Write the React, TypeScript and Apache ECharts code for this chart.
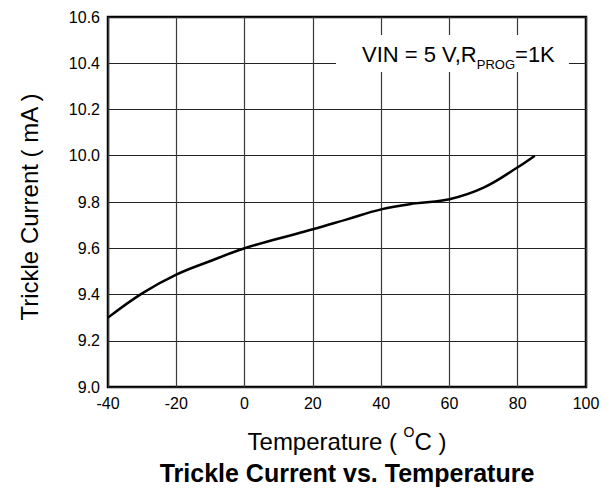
import React, { useEffect, useRef } from "react";
import * as echarts from "echarts";

// Trickle current vs. ambient temperature
const temperatures = [-40, -30, -20, -10, 0, 10, 20, 30, 40, 50, 60, 70, 80, 85];
const trickleCurrent = [9.3, 9.405, 9.486, 9.545, 9.6, 9.642, 9.682, 9.725, 9.768, 9.794, 9.812, 9.862, 9.95, 10.0];

const xTicks = [-40, -20, 0, 20, 40, 60, 80, 100];
const yTicks = [9.0, 9.2, 9.4, 9.6, 9.8, 10.0, 10.2, 10.4, 10.6];

const FONT = "'Liberation Sans', Arial, Helvetica, sans-serif";

// width of a string in the given font, used to chain the condition label pieces
function textWidth(text: string, size: number): number {
  const ctx = document.createElement("canvas").getContext("2d");
  if (!ctx) return text.length * size * 0.55;
  ctx.font = `${size}px ${FONT}`;
  return ctx.measureText(text).width;
}

export default function App() {
  const ref = useRef<HTMLDivElement>(null);

  useEffect(() => {
    if (!ref.current) return;
    const chart = echarts.init(ref.current, undefined, { renderer: "svg" });

    const points = temperatures.map((t, i) => [t, trickleCurrent[i]]);

    // condition label: "VIN = 5 V,R" + subscript "PROG" + "=1K"
    const condX = 362;
    const condMain = "VIN = 5 V,R";
    const condSub = "PROG";
    const condTail = "=1K";
    const wMain = textWidth(condMain, 22);
    const wSub = textWidth(condSub, 13);

    chart.setOption({
      animation: false,
      backgroundColor: "#ffffff",
      grid: {
        left: 108,
        right: 25,
        top: 17,
        bottom: 101,
        show: true,
        borderColor: "#000",
        borderWidth: 2.5,
        containLabel: false,
      },
      xAxis: {
        type: "value",
        min: xTicks[0],
        max: xTicks[xTicks.length - 1],
        interval: 20,
        axisLine: { show: false },
        axisTick: { show: false },
        axisLabel: {
          margin: 8,
          color: "#000",
          fontFamily: FONT,
          fontSize: 16,
          formatter: (v: number) => String(v),
        },
        splitLine: { show: true, lineStyle: { color: "#3a3a3a", width: 1.2 } },
      },
      yAxis: {
        type: "value",
        min: yTicks[0],
        max: yTicks[yTicks.length - 1],
        interval: 0.2,
        axisLine: { show: false },
        axisTick: { show: false },
        axisLabel: {
          margin: 8,
          color: "#000",
          fontFamily: FONT,
          fontSize: 16,
          formatter: (v: number) => v.toFixed(1),
        },
        splitLine: { show: true, lineStyle: { color: "#222", width: 1.2 } },
      },
      series: [
        {
          type: "line",
          data: points,
          smooth: 0.4,
          showSymbol: false,
          lineStyle: { color: "#000", width: 2.5 },
          z: 5,
        },
      ],
      graphic: [
        {
          type: "rect",
          z: 10,
          shape: { x: 336, y: 35, width: 233, height: 37 },
          style: { fill: "#fff" },
        },
        {
          type: "text",
          z: 11,
          x: condX,
          y: 54,
          style: {
            text: condMain,
            fontFamily: FONT,
            fontSize: 22,
            align: "left",
            verticalAlign: "middle",
            fill: "#000",
          },
        },
        {
          type: "text",
          z: 11,
          x: condX + wMain,
          y: 64,
          style: {
            text: condSub,
            fontFamily: FONT,
            fontSize: 13,
            align: "left",
            verticalAlign: "middle",
            fill: "#000",
          },
        },
        {
          type: "text",
          z: 11,
          x: condX + wMain + wSub,
          y: 54,
          style: {
            text: condTail,
            fontFamily: FONT,
            fontSize: 22,
            align: "left",
            verticalAlign: "middle",
            fill: "#000",
          },
        },
        {
          type: "text",
          x: 29,
          y: 207,
          rotation: Math.PI / 2,
          style: {
            text: "Trickle Current ( mA )",
            fontFamily: FONT,
            fontSize: 24,
            align: "center",
            verticalAlign: "middle",
            fill: "#000",
          },
        },
        {
          type: "text",
          x: 347,
          y: 439,
          style: {
            text: "{a|Temperature ( }{s|O}{a|C )}",
            align: "center",
            verticalAlign: "middle",
            fill: "#000",
            rich: {
              a: { fontFamily: FONT, fontSize: 24, lineHeight: 28, verticalAlign: "top", padding: [4.5, 0, 0, 0], fill: "#000" },
              s: { fontFamily: FONT, fontSize: 14, lineHeight: 14, verticalAlign: "top", fill: "#000" },
            },
          },
        },
        {
          type: "text",
          x: 347,
          y: 473,
          style: {
            text: "Trickle Current vs. Temperature",
            fontFamily: FONT,
            fontSize: 25,
            fontWeight: "bold",
            align: "center",
            verticalAlign: "middle",
            fill: "#000",
          },
        },
      ],
    });

    return () => chart.dispose();
  }, []);

  return (
    <div
      ref={ref}
      style={{ position: "absolute", left: 0, top: 0, width: 611, height: 488 }}
    />
  );
}
